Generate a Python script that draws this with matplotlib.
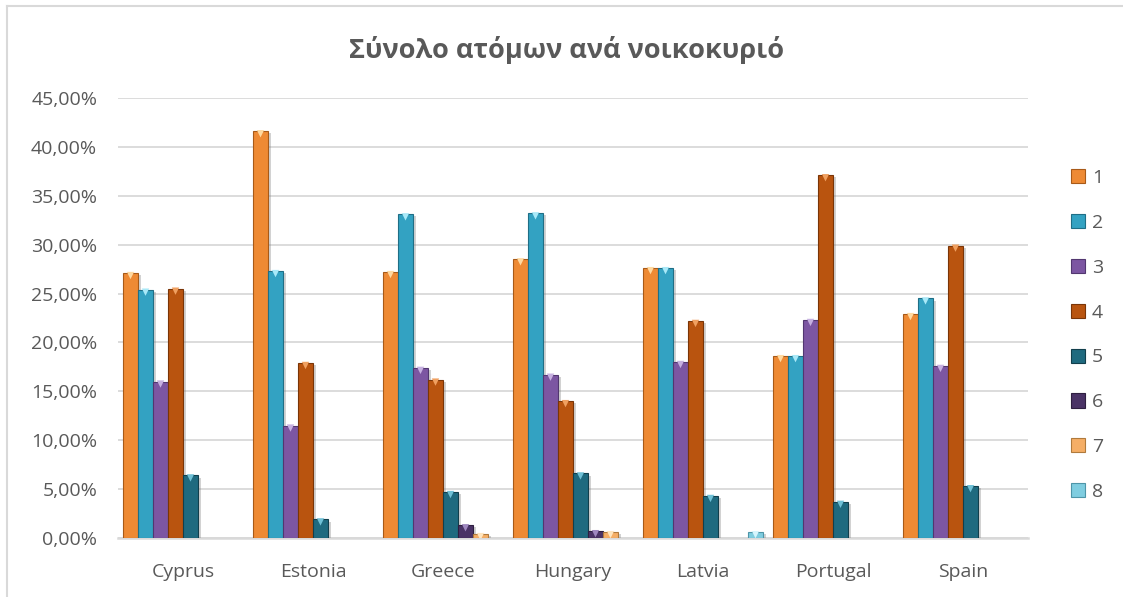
import numpy as np
import matplotlib
matplotlib.use("Agg")
import matplotlib.pyplot as plt
from matplotlib.patches import Patch
from matplotlib.ticker import FuncFormatter
import matplotlib.patheffects as pe
from matplotlib.transforms import offset_copy

title = "Σύνολο ατόμων ανά νοικοκυριό"
countries = ["Cyprus", "Estonia", "Greece", "Hungary", "Latvia", "Portugal", "Spain"]
series_names = ["1", "2", "3", "4", "5", "6", "7", "8"]

nan = np.nan
s1 = [27.1, 41.6, 27.2, 28.5, 27.6, 18.6, 22.9]
s2 = [25.4, 27.3, 33.1, 33.2, 27.6, 18.6, 24.5]
s3 = [16.0, 11.5, 17.4, 16.7, 18.0, 22.3, 17.6]
s4 = [25.5, 17.9, 16.2, 14.0, 22.2, 37.1, 29.9]
s5 = [6.4, 1.9, 4.7, 6.6, 4.3, 3.7, 5.3]
s6 = [nan, nan, 1.3, 0.7, nan, nan, nan]
s7 = [nan, nan, 0.4, 0.6, nan, nan, nan]
s8 = [nan, nan, nan, nan, 0.6, nan, nan]
series = [s1, s2, s3, s4, s5, s6, s7, s8]

colors = ["#EE8A34", "#33A2C2", "#7C56A2", "#B9540F", "#1F6A7F", "#4A3366", "#F5AE66", "#7FCDE0"]
edges = ["#A85A18", "#1F6E86", "#523770", "#7A3507", "#123F4C", "#2E1F40", "#B07A3C", "#4E95A8"]
tri = ["#FFD9A0", "#A9E9F8", "#C6B0E0", "#F0A060", "#6FC0D6", "#9F88C0", "#FFE6C0", "#D6F5FD"]

fig = plt.figure(figsize=(11.23, 5.97), dpi=100)
ax = fig.add_axes([118/1123, (597-538)/597, (1028-118)/1123, (538-98)/597])

n = len(series)
w = 15/130
x = np.arange(len(countries))
tri_tr = offset_copy(ax.transData, fig=fig, y=-2.5, units='dots')
for j, vals in enumerate(series):
    v = np.array(vals, dtype=float) / 100
    pos = x + (j - (n - 1) / 2) * w
    mask = ~np.isnan(v)
    bars = ax.bar(pos[mask], v[mask], width=w*0.97, color=colors[j], edgecolor=edges[j],
                  linewidth=0.8, zorder=3)
    for b in bars:
        b.set_path_effects([pe.SimplePatchShadow(offset=(2.5, -1.5), shadow_rgbFace='#808080', alpha=0.35),
                            pe.Normal()])
    ax.scatter(pos[mask], v[mask], marker='v', s=28, color=tri[j], edgecolors='none',
               zorder=4, transform=tri_tr)

ax.set_xlim(-0.5, len(countries) - 0.5)
ax.set_ylim(0, 0.45)
ax.set_yticks(np.arange(0, 0.451, 0.05))
ax.yaxis.set_major_formatter(FuncFormatter(lambda v, p: f"{v*100:.2f}%".replace(".", ",")))
ax.set_xticks(x)
ax.set_xticklabels(countries)
ax.grid(axis='y', color='#D9D9D9', linewidth=1.3, zorder=0)
for s in ['top', 'right', 'left']:
    ax.spines[s].set_visible(False)
ax.spines['bottom'].set_color('#D9D9D9')
ax.spines['bottom'].set_linewidth(1.8)
ax.tick_params(length=0, labelsize=14, labelcolor='#595959')
ax.tick_params(axis='y', pad=15)
ax.tick_params(axis='x', pad=18)
for lab in ax.get_xticklabels() + ax.get_yticklabels():
    lab.set_fontfamily('Open Sans')
ax.set_axisbelow(True)

fig.text(567/1123, 1 - 50/597, title, ha='center', va='center', fontsize=19.5,
         fontweight='bold', color='#595959', family='Open Sans')

handles = [Patch(facecolor=colors[j], edgecolor=edges[j], linewidth=0.8) for j in range(n)]
leg = fig.legend(handles, series_names, loc='center left', bbox_to_anchor=(1053/1123, 1 - 335/597),
                 frameon=False, handlelength=0.75, handleheight=0.75, handletextpad=0.35,
                 labelspacing=1.38, prop={'family': 'Open Sans', 'size': 14}, labelcolor='#595959')

# chart border
fig.add_artist(plt.Line2D([7/1123, 7/1123], [0, 1 - 6/597], transform=fig.transFigure, color='#D9D9D9', linewidth=1.5))
fig.add_artist(plt.Line2D([7/1123, 1122/1123], [1 - 6/597, 1 - 6/597], transform=fig.transFigure, color='#D9D9D9', linewidth=1.5))

fig.savefig("out.png", dpi=100)
